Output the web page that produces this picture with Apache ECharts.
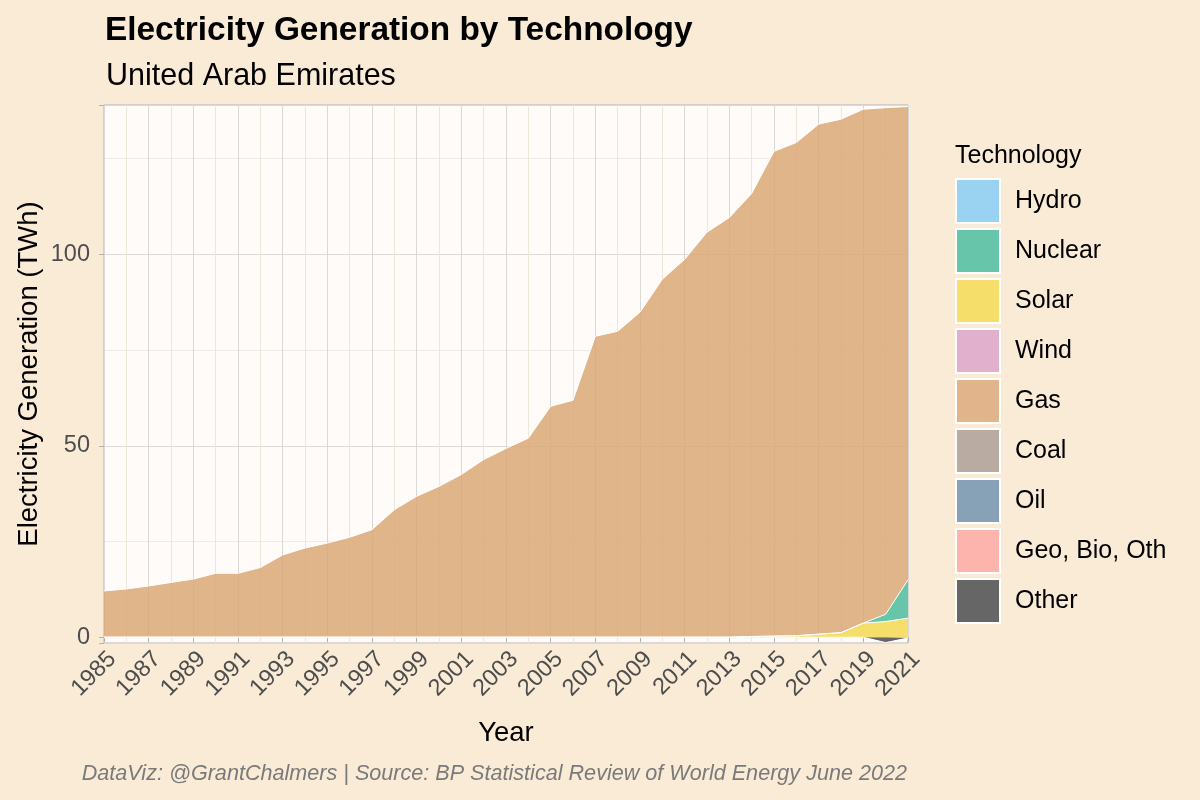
<!DOCTYPE html>
<html>
<head>
<meta charset="utf-8">
<script src="https://cdn.jsdelivr.net/npm/echarts@6/dist/echarts.min.js"></script>
<style>
  html, body { margin: 0; padding: 0; background: #FAEBD7; }
  #chart { width: 1200px; height: 800px; }
</style>
</head>
<body>
<div id="chart"></div>
<script>
// years on the x axis
var years = ['1985','1986','1987','1988','1989','1990','1991','1992','1993','1994',
             '1995','1996','1997','1998','1999','2000','2001','2002','2003','2004',
             '2005','2006','2007','2008','2009','2010','2011','2012','2013','2014',
             '2015','2016','2017','2018','2019','2020','2021'];

// generation, TWh
var gas = [12.1, 12.6, 13.4, 14.3, 15.2, 16.7, 16.7, 18.2, 21.5, 23.3,
           24.6, 26.1, 28.1, 33.3, 36.8, 39.4, 42.5, 46.4, 49.3, 52.0,
           60.3, 61.9, 78.6, 79.9, 84.9, 93.5, 98.7, 105.8, 109.6, 115.7,
           126.6, 128.8, 133.2, 134.1, 134.2, 132.3, 123.6];
var solar = [0, 0, 0, 0, 0, 0, 0, 0, 0, 0,
             0, 0, 0, 0, 0, 0, 0, 0, 0, 0,
             0, 0, 0, 0, 0, 0, 0, 0, 0, 0.2,
             0.3, 0.4, 0.8, 1.2, 3.7, 4.1, 5.0];
var nuclear = [0, 0, 0, 0, 0, 0, 0, 0, 0, 0,
               0, 0, 0, 0, 0, 0, 0, 0, 0, 0,
               0, 0, 0, 0, 0, 0, 0, 0, 0, 0,
               0, 0, 0, 0, 0, 1.9, 10.0];
var other = [0, 0, 0, 0, 0, 0, 0, 0, 0, 0,
             0, 0, 0, 0, 0, 0, 0, 0, 0, 0,
             0, 0, 0, 0, 0, 0, 0, 0, 0, 0,
             0, 0, 0, 0, 0, -1.4, -0.2];
// nothing visible for these in the UAE
var hydro = [];
var wind = [];
var coal = [];
var oil = [];
var geo = [];

var techNames = ['Hydro', 'Nuclear', 'Solar', 'Wind', 'Gas', 'Coal', 'Oil', 'Geo, Bio, Oth', 'Other'];
var techColors = {
  'Hydro': '#9AD3F2',
  'Nuclear': '#67C5AA',
  'Solar': '#F5DF6A',
  'Wind': '#E0B0CC',
  'Gas': '#E1B48B',
  'Coal': '#B9ABA1',
  'Oil': '#87A1B7',
  'Geo, Bio, Oth': '#FCB4AC',
  'Other': '#666666'
};
// fill under the gridlines (a bit transparent like the original)
var areaFill = {
  'Gas': '#DCA877'
};

var font = 'Liberation Sans, Arial, sans-serif';

function areaSeries(name, data) {
  var c = techColors[name];
  return {
    name: name,
    type: 'line',
    stack: 'total',
    data: data,
    symbol: 'none',
    color: c,
    itemStyle: { color: c },
    lineStyle: { color: '#ffffff', width: 1 },
    areaStyle: { color: areaFill[name] || c, opacity: areaFill[name] ? 0.85 : 1 },
    emphasis: { disabled: true }
  };
}

// bottom of the stack first
var series = [
  areaSeries('Hydro', hydro),
  areaSeries('Wind', wind),
  areaSeries('Coal', coal),
  areaSeries('Oil', oil),
  areaSeries('Geo, Bio, Oth', geo),
  areaSeries('Other', other),
  areaSeries('Solar', solar),
  areaSeries('Nuclear', nuclear),
  areaSeries('Gas', gas)
];

var myChart = echarts.init(document.getElementById('chart'));
var option = {
  backgroundColor: '#FAEBD7',
  animation: false,
  textStyle: { fontFamily: font },
  title: [
    { text: 'Electricity Generation by Technology', left: 100, top: 9,
      textStyle: { fontSize: 33.4, fontWeight: 'bold', color: '#000', fontFamily: font } },
    { text: 'United Arab Emirates', left: 101, top: 56,
      textStyle: { fontSize: 30.5, fontWeight: 'normal', color: '#000', fontFamily: font } },
    { text: 'Technology', left: 950, top: 139,
      textStyle: { fontSize: 25, fontWeight: 'normal', color: '#000', fontFamily: font } },
    { text: 'DataViz: @GrantChalmers | Source: BP Statistical Review of World Energy June 2022',
      right: 288, bottom: 10,
      textStyle: { fontSize: 21.6, fontStyle: 'italic', fontWeight: 'normal', color: '#7a7a7a', fontFamily: font } }
  ],
  legend: {
    orient: 'vertical',
    left: 955,
    top: 178,
    padding: 0,
    itemWidth: 44,
    itemHeight: 44,
    itemGap: 4,
    icon: 'rect',
    data: techNames,
    itemStyle: { borderColor: '#ffffff', borderWidth: 2 },
    textStyle: { fontSize: 25, color: '#000', fontFamily: font, padding: [0, 0, 0, 10] },
    selectedMode: false
  },
  grid: {
    left: 104,
    right: 292,
    top: 105,
    bottom: 157,
    show: true,
    backgroundColor: '#FEFBF9',
    borderColor: '#b3b3b3',
    borderWidth: 1,
    outerBoundsMode: 'none'
  },
  xAxis: {
    type: 'category',
    data: years,
    boundaryGap: false,
    name: 'Year',
    nameLocation: 'middle',
    nameGap: 76,
    nameMoveOverlap: false,
    nameTextStyle: { fontSize: 27.5, color: '#000', fontFamily: font },
    axisLine: { show: false },
    axisTick: { show: true, interval: 1, length: 5, lineStyle: { color: '#b3b3b3' } },
    axisLabel: { interval: 1, rotate: 45, verticalAlign: 'top', fontSize: 23.5, color: '#4d4d4d', margin: 4, fontFamily: font },
    splitLine: { show: true, interval: 0, lineStyle: { color: ['#d8d8d8', '#ebe8da'], width: 1 } }
  },
  yAxis: {
    type: 'value',
    min: -1.5,
    max: 139,
    minInterval: 50,
    maxInterval: 50,
    name: 'Electricity Generation (TWh)',
    nameLocation: 'middle',
    nameGap: 61,
    nameMoveOverlap: false,
    nameTextStyle: { fontSize: 27.5, color: '#000', fontFamily: font },
    axisLine: { show: false },
    axisTick: { show: true, length: 5, lineStyle: { color: '#b3b3b3' } },
    axisLabel: {
      fontSize: 23.5, color: '#4d4d4d', margin: 14, fontFamily: font,
      formatter: function (v) { return v % 50 === 0 ? String(v) : ''; }
    },
    splitLine: { show: true, lineStyle: { color: '#dadada', width: 1 } },
    minorTick: { show: false, splitNumber: 2 },
    minorSplitLine: { show: true, lineStyle: { color: '#efede3', width: 1 } }
  },
  series: series
};
myChart.setOption(option);
</script>
</body>
</html>
